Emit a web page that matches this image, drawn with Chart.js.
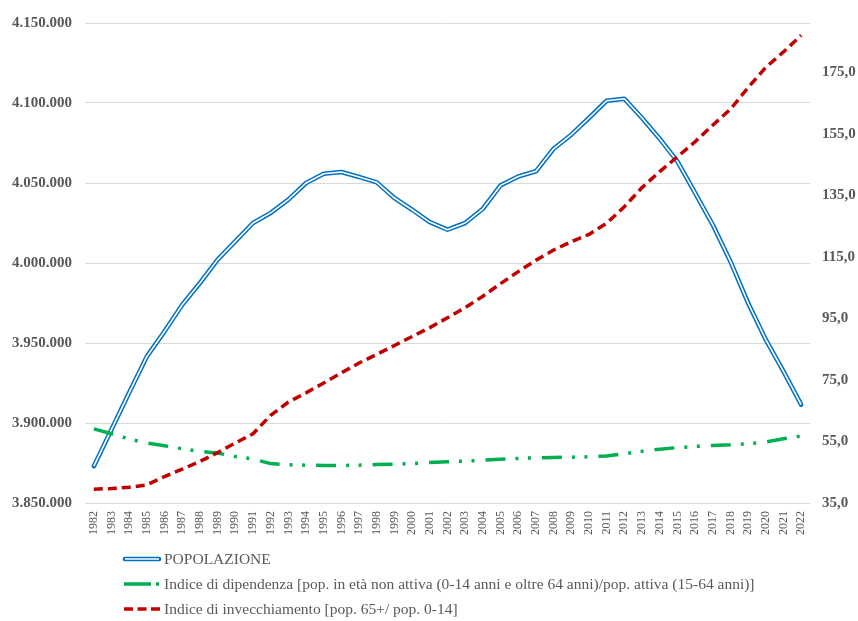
<!DOCTYPE html>
<html>
<head>
<meta charset="utf-8">
<script src="https://cdn.jsdelivr.net/npm/chart.js@4/dist/chart.umd.min.js"></script>
<style>
  html, body { margin: 0; padding: 0; background: #ffffff; }
  #wrap { position: relative; width: 858px; height: 621px; }
  #legend { position: absolute; left: 122px; top: 546px; font-family: 'Liberation Serif', 'Times New Roman', serif; font-size: 15.5px; color: #595959; }
  .row { display: flex; align-items: center; height: 25px; white-space: nowrap; }
  .row svg { margin-right: 2px; }
</style>
</head>
<body>
<div id="wrap">
  <canvas id="c" width="858" height="621"></canvas>
  <div id="legend"></div>
</div>
<script>
const YEARS = ['1982','1983','1984','1985','1986','1987','1988','1989','1990','1991','1992','1993','1994','1995','1996','1997','1998','1999','2000','2001','2002','2003','2004','2005','2006','2007','2008','2009','2010','2011','2012','2013','2014','2015','2016','2017','2018','2019','2020','2021','2022'];

const POPOLAZIONE = [3873000,3896000,3919000,3941600,3957300,3973900,3987500,4002100,4013500,4025000,4031300,4039600,4050000,4055800,4056900,4053800,4050400,4040600,4033300,4025600,4020800,4025000,4033900,4048500,4054100,4057300,4071400,4080200,4090600,4101400,4102700,4090600,4077700,4063500,4043800,4023900,4001000,3975000,3952100,3932300,3911500];

const INDICE_DIPENDENZA = [59.1,57.5,55.8,54.5,53.6,52.6,51.8,51.2,50.1,49.3,47.8,47.4,47.3,47.2,47.2,47.3,47.5,47.6,47.8,48.2,48.4,48.6,48.9,49.2,49.5,49.7,49.8,49.9,50.0,50.3,51.0,51.8,52.5,53.0,53.4,53.7,53.9,54.3,54.8,55.9,56.8];

const INDICE_INVECCHIAMENTO = [39.5,39.7,40.1,40.9,43.6,46.0,48.5,51.4,54.5,57.5,63.5,67.8,70.8,74.0,77.3,80.5,83.3,86.2,89.1,92.0,95.2,98.5,102.2,106.3,110.2,113.9,117.2,119.9,122.3,125.9,131.3,137.5,142.7,147.5,152.4,157.8,163.0,170.0,176.6,181.6,187.0];

const LEFT_TICKS = [3850000,3900000,3950000,4000000,4050000,4100000,4150000];
const RIGHT_TICKS = [35,55,75,95,115,135,155,175];

const LABELS = [
  'POPOLAZIONE',
  'Indice di dipendenza [pop. in età non attiva (0-14 anni e oltre 64 anni)/pop. attiva (15-64 anni)]',
  'Indice di invecchiamento [pop. 65+/ pop. 0-14]'
];

const BLUE = '#0070C0', GREEN = '#00B050', RED = '#C00000', GRID = '#D9D9D9', TXT = '#595959';
const SERIF = "'Liberation Serif', 'Times New Roman', serif";

function fmtThousands(v) {
  return String(Math.round(v)).replace(/\B(?=(\d{3})+(?!\d))/g, '.');
}

new Chart(document.getElementById('c'), {
  type: 'line',
  data: {
    labels: YEARS,
    datasets: [
      { label: LABELS[2], data: INDICE_INVECCHIAMENTO, yAxisID: 'y2', borderColor: RED, borderWidth: 3.5,
        borderDash: [9, 5], borderCapStyle: 'butt', pointRadius: 0, tension: 0, fill: false, order: 0 },
      { label: LABELS[1], data: INDICE_DIPENDENZA, yAxisID: 'y2', borderColor: GREEN, borderWidth: 3.5,
        borderDash: [20, 10, 3, 9.5, 3, 11], borderCapStyle: 'butt', pointRadius: 0, tension: 0, fill: false, order: 1 },
      { label: LABELS[0] + ' inner', data: POPOLAZIONE, yAxisID: 'y', borderColor: '#ffffff', borderWidth: 1.6,
        borderJoinStyle: 'round', pointRadius: 0, tension: 0, fill: false, order: 2 },
      { label: LABELS[0], data: POPOLAZIONE, yAxisID: 'y', borderColor: BLUE, borderWidth: 4.6,
        borderCapStyle: 'round', borderJoinStyle: 'round', pointRadius: 0, tension: 0, fill: false, order: 3 }
    ]
  },
  options: {
    responsive: false,
    animation: false,
    devicePixelRatio: 1,
    layout: { padding: { top: 23, left: 0, right: 0, bottom: 0 } },
    plugins: { legend: { display: false }, tooltip: { enabled: false } },
    scales: {
      x: {
        offset: true,
        grid: { display: false, drawTicks: false },
        border: { display: false },
        ticks: { autoSkip: false, minRotation: 90, maxRotation: 90, padding: 8,
          font: { family: SERIF, size: 12 }, color: TXT },
        afterFit: s => { s.height = 118; }
      },
      y: {
        position: 'left',
        min: 3850000, max: 4150000,
        grid: { color: GRID, lineWidth: 1, drawTicks: false },
        border: { display: false },
        afterBuildTicks: s => { s.ticks = LEFT_TICKS.map(v => ({ value: v })); },
        ticks: { padding: 13, font: { family: SERIF, size: 15, weight: 'bold' }, color: TXT,
          callback: v => fmtThousands(v) },
        afterFit: s => { s.width = 85; }
      },
      y2: {
        position: 'right',
        min: 35, max: 191,
        grid: { display: false, drawTicks: false },
        border: { display: false },
        afterBuildTicks: s => { s.ticks = RIGHT_TICKS.map(v => ({ value: v })); },
        ticks: { padding: 12, font: { family: SERIF, size: 15, weight: 'bold' }, color: TXT,
          callback: v => v.toFixed(1).replace('.', ',') },
        afterFit: s => { s.width = 48; }
      }
    }
  }
});

// Legend (HTML text, samples drawn as small SVG strokes)
const samples = [
  '<svg width="40" height="10"><line x1="3" y1="5" x2="37" y2="5" stroke="' + BLUE + '" stroke-width="4.6" stroke-linecap="round"/><line x1="3" y1="5" x2="37" y2="5" stroke="#fff" stroke-width="1.6"/></svg>',
  '<svg width="40" height="10"><line x1="2" y1="5" x2="29" y2="5" stroke="' + GREEN + '" stroke-width="3.5"/><line x1="34" y1="5" x2="37" y2="5" stroke="' + GREEN + '" stroke-width="3.5"/></svg>',
  '<svg width="40" height="10"><line x1="2" y1="5" x2="38" y2="5" stroke="' + RED + '" stroke-width="3.5" stroke-dasharray="9 4.5"/></svg>'
];
const lg = document.getElementById('legend');
LABELS.forEach((t, i) => {
  const row = document.createElement('div');
  row.className = 'row';
  row.innerHTML = samples[i];
  const span = document.createElement('span');
  span.textContent = t;
  row.appendChild(span);
  lg.appendChild(row);
});
</script>
</body>
</html>
